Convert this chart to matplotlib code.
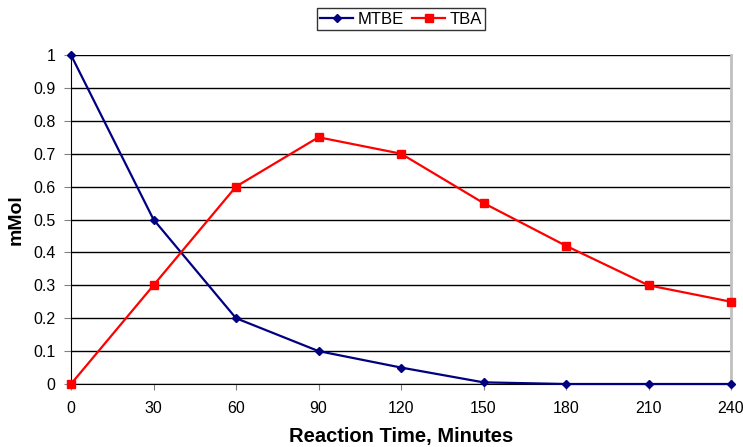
import matplotlib
matplotlib.use("Agg")
import matplotlib.pyplot as plt

# data
minutes = [0, 30, 60, 90, 120, 150, 180, 210, 240]
mtbe = [1.0, 0.5, 0.2, 0.1, 0.05, 0.005, 0.0, 0.0, 0.0]
tba = [0.0, 0.3, 0.6, 0.75, 0.7, 0.55, 0.42, 0.3, 0.25]

plt.rcParams['font.family'] = ['Liberation Sans', 'DejaVu Sans']

fig = plt.figure(figsize=(7.43, 4.47), dpi=100)
ax = fig.add_axes([71 / 743, 1 - 384 / 447, 660 / 743, 329 / 447])

ax.plot(minutes, mtbe, color='#000080', lw=1.6, marker='D', ms=4.5, label='MTBE', zorder=3, clip_on=False)
ax.plot(minutes, tba, color='#ff0000', lw=1.6, marker='s', ms=5.5, label='TBA', zorder=3, clip_on=False)

ax.set_xlim(0, 240)
ax.set_ylim(0, 1)
ax.set_xticks(minutes)
ax.set_yticks([i / 10 for i in range(11)])
ax.set_yticklabels(['0' if i == 0 else ('1' if i == 10 else f'0.{i}') for i in range(11)])
ax.grid(axis='y', color='black', lw=1)
ax.set_axisbelow(True)

ax.spines['top'].set_visible(False)
ax.spines['right'].set_color('#c0c0c0')
ax.spines['right'].set_linewidth(2)
ax.spines['left'].set_color('black')
ax.spines['bottom'].set_color('black')

ax.tick_params(axis='y', direction='out', length=5, labelsize=11.5, pad=6, color='#808080')
ax.tick_params(axis='x', direction='out', length=4, labelsize=11.5, pad=8, color='#808080')

ax.set_xlabel('Reaction Time, Minutes', fontsize=14.5, fontweight='bold', labelpad=8)
ax.set_ylabel('mMol', fontsize=14, fontweight='bold', labelpad=6)

leg = fig.legend(loc='center', bbox_to_anchor=(401 / 743, 1 - 19 / 447), ncol=2, fontsize=12,
                 frameon=True, fancybox=False, edgecolor='black', handlelength=2.0,
                 columnspacing=0.5, handletextpad=0.25, borderpad=0.2, borderaxespad=0)
leg.get_frame().set_linewidth(1)

fig.savefig('out.png', dpi=100)
